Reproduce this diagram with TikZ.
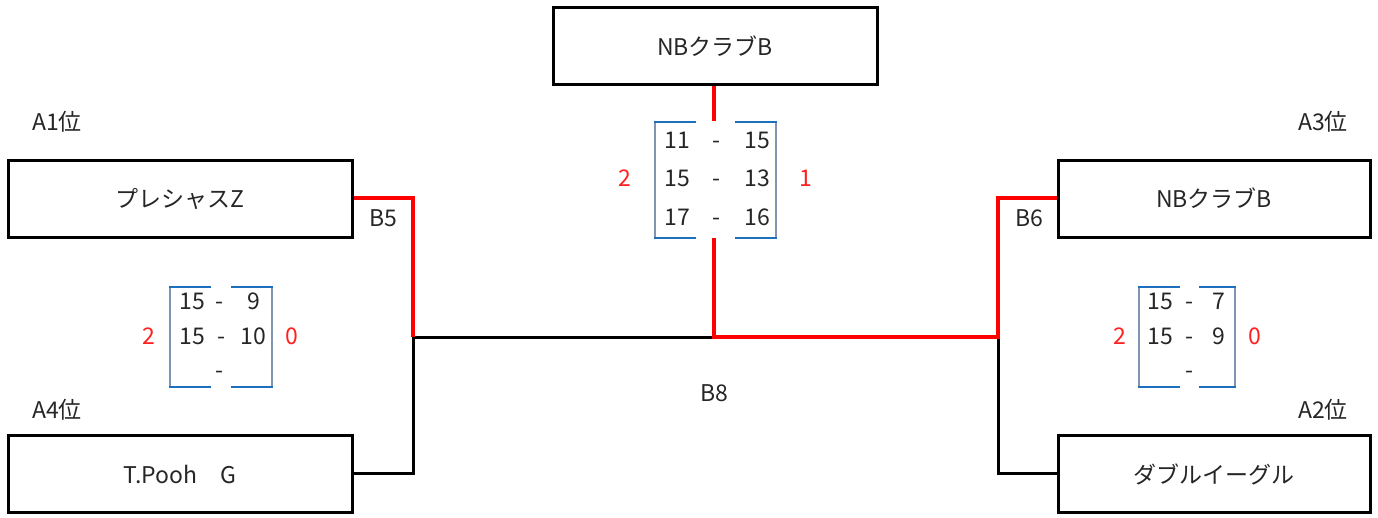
\documentclass[tikz,border=0pt]{standalone}
\usepackage{fontspec}
\setmainfont{Noto Sans CJK JP}
\definecolor{txt}{HTML}{262626}
\definecolor{brk}{HTML}{1F6FBF}
\definecolor{brv}{HTML}{8096B0}
\definecolor{win}{HTML}{FF0000}
\definecolor{sred}{HTML}{FF2020}
\tikzset{
  team/.style={draw=black, line width=3pt, minimum width=#1, minimum height=77pt, inner sep=0pt, font=\fontsize{23}{27}\selectfont, text=txt},
  lbl/.style={font=\fontsize{23}{27}\selectfont, text=txt, inner sep=0pt, text height=17pt, text depth=0pt},
  sc/.style={font=\fontsize{23}{27}\selectfont, text=txt, inner sep=0pt, text height=17pt, text depth=0pt},
  ss/.style={font=\fontsize{23}{27}\selectfont, text=sred, inner sep=0pt, text height=17pt, text depth=0pt},
  wline/.style={draw=win, line width=4.5pt},
  lline/.style={draw=black, line width=3pt},
  bh/.style={draw=brk, line width=2.8pt},
  bv/.style={draw=brv, line width=2.8pt},
}
\begin{document}
\begin{tikzpicture}[x=1pt,y=-1pt]
\useasboundingbox[fill=white] (0,0) rectangle (1378,517);
% team boxes
\node[team=324pt] (top) at (715,46) {NBクラブB};
\node[team=344pt] (a1) at (180,198.5) {プレシャスZ};
\node[team=344pt] (a4) at (180,474) {T.Pooh　G};
\node[team=312pt] (a3) at (1214,198.5) {NBクラブB};
\node[team=312pt] (a2) at (1214,474) {ダブルイーグル};
% rank labels
\node[lbl] (la1) at (57,122) {A1位};
\node[lbl] (la4) at (57,410) {A4位};
\node[lbl] (la3) at (1323,122) {A3位};
\node[lbl] (la2) at (1323,410) {A2位};
% junction coordinates
\coordinate (b5t) at (413,198);
\coordinate (b5m) at (413,337);
\coordinate (b5b) at (413,473);
\coordinate (b6t) at (998,198);
\coordinate (b6m) at (998,337);
\coordinate (b6b) at (998,473);
\coordinate (b8m) at (714,337);
\coordinate (b8u) at (714,238);
\coordinate (topd) at (714,121);
% losing lines
\draw[lline] (a4.east |- b5b) -- (b5b) -- (b5m) -- (b8m);
\draw[lline] (a2.west |- b6b) -- (b6b) -- (b6m);
% winning lines
\draw[wline] (a1.east |- b5t) -- (b5t) -- (b5m);
\draw[wline] (a3.west |- b6t) -- (b6t) -- (b6m) -- (b8m) -- (b8u);
\draw[wline] (top.south -| topd) -- (topd);
% match labels
\node[lbl] (lb5) at (383,218) {B5};
\node[lbl] (lb6) at (1029,218) {B6};
\node[lbl] (lb8) at (714,393) {B8};
% top score bracket
\draw[bv] (655,122) -- (655,238);
\draw[bv] (776,122) -- (776,238);
\draw[bh] (654,122) -- (696,122);
\draw[bh] (654,238) -- (696,238);
\draw[bh] (735,122) -- (777,122);
\draw[bh] (735,238) -- (777,238);
\node[sc] (t1a) at (677,140) {11};
\node[sc] (t1d) at (716,140) {-};
\node[sc] (t1b) at (757,140) {15};
\node[sc] (t2a) at (677,178) {15};
\node[sc] (t2d) at (716,178) {-};
\node[sc] (t2b) at (757,178) {13};
\node[sc] (t3a) at (677,217) {17};
\node[sc] (t3d) at (716,217) {-};
\node[sc] (t3b) at (757,217) {16};
\node[ss] (tl) at (625,178) {2};
\node[ss] (tr) at (806,178) {1};
% left score bracket
\draw[bv] (170,287) -- (170,387);
\draw[bv] (272,287) -- (272,387);
\draw[bh] (169,287) -- (211,287);
\draw[bh] (169,387) -- (211,387);
\draw[bh] (231,287) -- (273,287);
\draw[bh] (231,387) -- (273,387);
\node[sc] (l1a) at (192,301) {15};
\node[sc] (l1d) at (219,301) {-};
\node[sc,anchor=east] (l1b) at (260,301) {9};
\node[sc] (l2a) at (192,336) {15};
\node[sc] (l2d) at (221,336) {-};
\node[sc,anchor=east] (l2b) at (266,336) {10};
\node[sc] (l3d) at (219,370) {-};
\node[ss] (ll) at (149,336) {2};
\node[ss] (lr) at (292,336) {0};
% right score bracket
\draw[bv] (1139,287) -- (1139,387);
\draw[bv] (1235,287) -- (1235,387);
\draw[bh] (1138,287) -- (1180,287);
\draw[bh] (1138,387) -- (1180,387);
\draw[bh] (1199,287) -- (1236,287);
\draw[bh] (1199,387) -- (1236,387);
\node[sc] (r1a) at (1160,301) {15};
\node[sc] (r1d) at (1189,301) {-};
\node[sc,anchor=east] (r1b) at (1225,301) {7};
\node[sc] (r2a) at (1160,336) {15};
\node[sc] (r2d) at (1189,336) {-};
\node[sc,anchor=east] (r2b) at (1225,336) {9};
\node[sc] (r3d) at (1189,370) {-};
\node[ss] (rl) at (1120,336) {2};
\node[ss] (rr) at (1255,336) {0};
\end{tikzpicture}
\end{document}
